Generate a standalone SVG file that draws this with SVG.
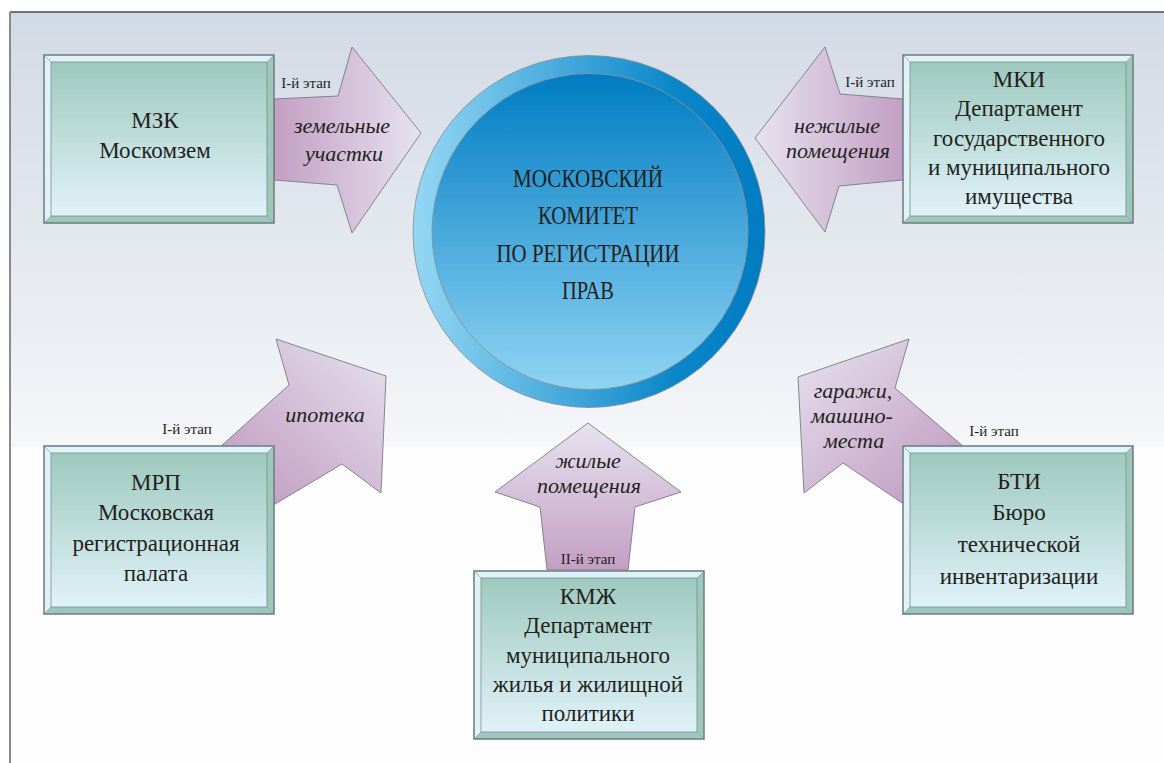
<svg xmlns="http://www.w3.org/2000/svg" width="1164" height="763" viewBox="0 0 1164 763">
<defs>
<style>
.bt{font-family:'Liberation Serif','DejaVu Serif',serif;font-size:23px;fill:#231f20;text-anchor:middle}
.ct{font-family:'Liberation Serif','DejaVu Serif',serif;font-size:25px;fill:#231f20;text-anchor:middle}
.at{font-family:'Liberation Serif','DejaVu Serif',serif;font-style:italic;font-size:22px;fill:#231f20;text-anchor:middle}
.lb{font-family:'Liberation Serif','DejaVu Serif',serif;font-size:15px;fill:#231f20;text-anchor:middle}
.arr{stroke:#7b7b82;stroke-width:0.9;stroke-linejoin:miter}
.light{fill:#dff2f8}
.teal{fill:#9cc7ba}
.edge{fill:none;stroke:#6c7b80;stroke-width:1.5}
.diag{stroke:#8c9ca0;stroke-width:0.7}
</style>
<linearGradient id="bg" x1="0" y1="0" x2="0" y2="1">
<stop offset="0" stop-color="#d2dae5"/>
<stop offset="0.8" stop-color="#edf0f4"/>
<stop offset="1" stop-color="#f6f7f9"/>
</linearGradient>
<linearGradient id="face" x1="0" y1="0" x2="0" y2="1">
<stop offset="0" stop-color="#9ec9be"/>
<stop offset="1" stop-color="#e0f2f9"/>
</linearGradient>
<linearGradient id="ring" x1="0" y1="0" x2="1" y2="0">
<stop offset="0" stop-color="#95d7f4"/>
<stop offset="0.75" stop-color="#0a86c8"/>
<stop offset="1" stop-color="#007bc2"/>
</linearGradient>
<linearGradient id="disc" x1="0" y1="0" x2="0" y2="1">
<stop offset="0" stop-color="#007cc3"/>
<stop offset="1" stop-color="#8fd4f3"/>
</linearGradient>
<linearGradient id="gR" x1="0" y1="0" x2="1" y2="0">
<stop offset="0" stop-color="#c29fc3"/>
<stop offset="1" stop-color="#e7e2ef"/>
</linearGradient>
<linearGradient id="gL" x1="1" y1="0" x2="0" y2="0">
<stop offset="0" stop-color="#c29fc3"/>
<stop offset="1" stop-color="#e7e2ef"/>
</linearGradient>
<linearGradient id="gUR" x1="0" y1="1" x2="1" y2="0">
<stop offset="0.2" stop-color="#c29fc3"/>
<stop offset="1" stop-color="#e7e2ef"/>
</linearGradient>
<linearGradient id="gUL" x1="1" y1="1" x2="0" y2="0">
<stop offset="0.2" stop-color="#c29fc3"/>
<stop offset="1" stop-color="#e7e2ef"/>
</linearGradient>
<linearGradient id="gU" x1="0" y1="1" x2="0" y2="0">
<stop offset="0" stop-color="#c29fc3"/>
<stop offset="1" stop-color="#e7e2ef"/>
</linearGradient>
<g id="bevel">
<polygon class="light" points="0,0 230,0 223,7 7,7"/>
<polygon class="light" points="0,0 7,7 7,161 0,168"/>
<polygon class="teal" points="230,0 230,168 223,161 223,7"/>
<polygon class="teal" points="0,168 7,161 223,161 230,168"/>
<rect x="7" y="7" width="216" height="154" fill="url(#face)" stroke="#7c8c90" stroke-width="0.8"/>
<line class="diag" x1="0" y1="0" x2="7" y2="7"/>
<line class="diag" x1="230" y1="0" x2="223" y2="7"/>
<line class="diag" x1="0" y1="168" x2="7" y2="161"/>
<line class="diag" x1="230" y1="168" x2="223" y2="161"/>
<rect class="edge" x="0" y="0" width="230" height="168"/>
</g>
</defs>

<g id="background">
<rect x="0" y="0" width="1164" height="763" fill="#ffffff"/>
<rect x="10" y="12" width="1154" height="435" fill="url(#bg)"/>
<rect x="10" y="447" width="1154" height="316" fill="#fdfdfd"/>
<line x1="10" y1="12" x2="1164" y2="12" stroke="#4a4a4a" stroke-width="1.5"/>
<line x1="10" y1="12" x2="10" y2="763" stroke="#8a8a8a" stroke-width="2"/>
</g>

<g id="connectors">
<g id="arrow-zemelnye">
<polygon class="arr" fill="url(#gR)" points="274,99 338,96 352,47 421,133 352,233 337,185 274,180"/>
<text class="at" x="342" y="133">земельные</text>
<text class="at" x="344" y="161">участки</text>
<text class="lb" x="306" y="88">I-й этап</text>
</g>
<g id="arrow-nezhilye">
<polygon class="arr" fill="url(#gL)" points="903,99 840,94 825,47 755,138 825,232 839,186 903,180"/>
<text class="at" x="837" y="133">нежилые</text>
<text class="at" x="838" y="158">помещения</text>
<text class="lb" x="870" y="87">I-й этап</text>
</g>
<g id="arrow-ipoteka">
<polygon class="arr" fill="url(#gUR)" points="200,465 289,385 276,339 386,376 381,493 342,464 250,519"/>
<text class="at" x="325" y="422">ипотека</text>
<text class="lb" x="187" y="434">I-й этап</text>
</g>
<g id="arrow-garazhi">
<polygon class="arr" fill="url(#gUL)" points="985,465 895,388 909,339 798,377 804,493 843,463 920,515"/>
<text class="at" x="853" y="398">гаражи,</text>
<text class="at" x="852" y="423">машино-</text>
<text class="at" x="854" y="448">места</text>
<text class="lb" x="994" y="436">I-й этап</text>
</g>
<g id="arrow-zhilye">
<polygon class="arr" fill="url(#gU)" points="588,423 681,492 635,507 628,570 547,570 540,507 495,492"/>
<text class="at" x="588" y="468">жилые</text>
<text class="at" x="589" y="493">помещения</text>
<text class="lb" x="588" y="564">II-й этап</text>
</g>
</g>

<g id="node-center">
<circle cx="589" cy="231.5" r="176" fill="url(#ring)" stroke="#7d8b92" stroke-width="0.8"/>
<circle cx="590" cy="231.5" r="158" fill="url(#disc)" stroke="#8a939a" stroke-width="0.9"/>
<text class="ct" x="588" y="187" textLength="150" lengthAdjust="spacingAndGlyphs">МОСКОВСКИЙ</text>
<text class="ct" x="588" y="224" textLength="100" lengthAdjust="spacingAndGlyphs">КОМИТЕТ</text>
<text class="ct" x="588" y="262" textLength="183" lengthAdjust="spacingAndGlyphs">ПО РЕГИСТРАЦИИ</text>
<text class="ct" x="588" y="299" textLength="52" lengthAdjust="spacingAndGlyphs">ПРАВ</text>
</g>

<g id="node-mzk">
<use href="#bevel" x="44" y="55"/>
<text class="bt" x="155" y="128">МЗК</text>
<text class="bt" x="155" y="158">Москомзем</text>
</g>

<g id="node-mki">
<use href="#bevel" x="903" y="55"/>
<text class="bt" x="1019" y="87">МКИ</text>
<text class="bt" x="1019" y="116">Департамент</text>
<text class="bt" x="1019" y="146">государственного</text>
<text class="bt" x="1019" y="175">и муниципального</text>
<text class="bt" x="1019" y="204">имущества</text>
</g>

<g id="node-mrp">
<use href="#bevel" x="44" y="446"/>
<text class="bt" x="156" y="490">МРП</text>
<text class="bt" x="156" y="520">Московская</text>
<text class="bt" x="156" y="551">регистрационная</text>
<text class="bt" x="156" y="581">палата</text>
</g>

<g id="node-bti">
<use href="#bevel" x="903" y="446"/>
<text class="bt" x="1019" y="489">БТИ</text>
<text class="bt" x="1019" y="520">Бюро</text>
<text class="bt" x="1019" y="552">технической</text>
<text class="bt" x="1019" y="584">инвентаризации</text>
</g>

<g id="node-kmzh">
<use href="#bevel" x="474" y="571"/>
<text class="bt" x="588" y="604">КМЖ</text>
<text class="bt" x="588" y="633">Департамент</text>
<text class="bt" x="588" y="663">муниципального</text>
<text class="bt" x="588" y="692">жилья и жилищной</text>
<text class="bt" x="588" y="721">политики</text>
</g>
</svg>
